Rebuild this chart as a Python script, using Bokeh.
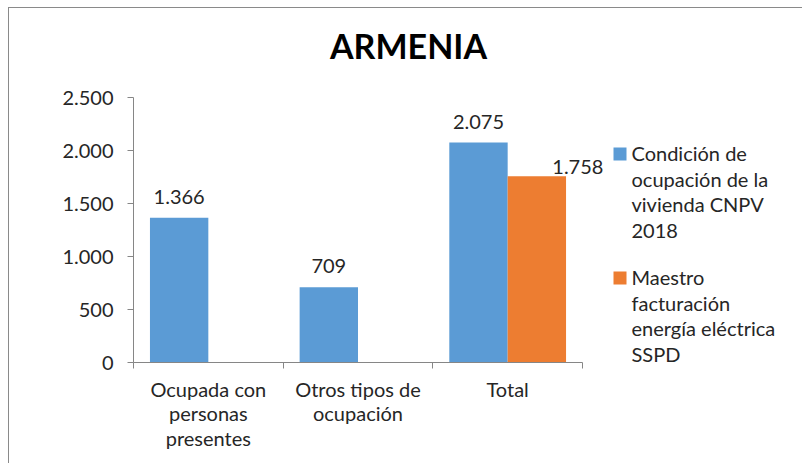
from bokeh.plotting import figure
from bokeh.models import (ColumnDataSource, Range1d, LinearAxis, FixedTicker, LabelSet, Label, BoxAnnotation)
from bokeh.core.properties import value
from bokeh.transform import dodge
from bokeh.embed import file_html
from bokeh.resources import INLINE
import math

# ---- data ----
categories = ["Ocupada con personas presentes", "Otros tipos de ocupación", "Total"]
category_labels = ["Ocupada con\npersonas\npresentes", "Otros tipos de\nocupación", "Total"]
cnpv_2018 = [1366, 709, 2075]
sspd = [float("nan"), float("nan"), 1758]
series_names = ["Condición de\nocupación de la\nvivienda CNPV\n2018",
                "Maestro\nfacturación\nenergía eléctrica\nSSPD"]
y_ticks = [0, 500, 1000, 1500, 2000, 2500]
y_tick_labels = ["0", "500", "1.000", "1.500", "2.000", "2.500"]
y_max = 2500
title_text = "ARMENIA"

# ---- styles / layout ----
BLUE = "#5B9BD5"
ORANGE = "#ED7D31"
COLORS = [BLUE, ORANGE]
AXIS = "#868686"
TXT = "#262626"
FONT = "Lato"
FS = "20px"

W_CANVAS, H_CANVAS = 794, 456
LEFT, BOTTOM = 124, 102           # room for the axes
PX_CAT = 149.67                   # pixels per category
PX_Y = 265 / y_max                # pixels per unit on the value axis
frame_w = W_CANVAS - LEFT
frame_h = H_CANVAS - BOTTOM


def fmt(v):
    return f"{int(v):,}".replace(",", ".")


n = len(categories)
centers = [i + 0.5 for i in range(n)]
bounds = list(range(n + 1))

p = figure(x_range=Range1d(0, frame_w / PX_CAT), y_range=Range1d(0, frame_h / PX_Y),
           width=W_CANVAS, height=H_CANVAS, output_backend="svg", toolbar_location=None,
           x_axis_location=None, y_axis_location="left",
           min_border_left=LEFT, min_border_right=0, min_border_top=0, min_border_bottom=BOTTOM,
           styles={"margin": "7px 0 0 8px",
                   "border-top": "1px solid #8a8a8a", "border-left": "1px solid #8a8a8a"})
p.outline_line_color = None
p.grid.visible = False

src1 = ColumnDataSource(dict(x=centers, val=cnpv_2018))
src2 = ColumnDataSource(dict(x=centers, val=sspd))

W = 0.39
D = 0.195
r1 = p.vbar(x=dodge("x", -D), top="val", width=W, source=src1, fill_color=BLUE, line_color=None)
r2 = p.vbar(x=dodge("x", D), top="val", width=W, source=src2, fill_color=ORANGE, line_color=None)

# data labels
lab1 = ColumnDataSource(dict(x=centers, val=cnpv_2018, txt=[fmt(v) for v in cnpv_2018]))
idx2 = [i for i, v in enumerate(sspd) if not math.isnan(v)]
lab2 = ColumnDataSource(dict(x=[centers[i] for i in idx2], val=[sspd[i] for i in idx2],
                             txt=[fmt(sspd[i]) for i in idx2]))
p.add_layout(LabelSet(x=dodge("x", -D), y="val", text="txt", source=lab1,
                      text_align="center", text_baseline="middle", y_offset=21,
                      text_font=value(FONT), text_font_size=value(FS), text_color=TXT))
p.add_layout(LabelSet(x=dodge("x", D), y="val", text="txt", source=lab2,
                      text_align="center", text_baseline="middle", y_offset=9, x_offset=41,
                      text_font=value(FONT), text_font_size=value(FS), text_color=TXT))

# y axis
yax = p.yaxis[0]
yax.ticker = FixedTicker(ticks=y_ticks)
yax.bounds = (0, y_max)
yax.major_label_overrides = dict(zip(y_ticks, y_tick_labels))
yax.axis_line_color = AXIS
yax.major_tick_line_color = AXIS
yax.major_tick_out = 6
yax.major_tick_in = 0
yax.minor_tick_line_color = None
yax.major_label_standoff = 14
yax.major_label_text_font = FONT
yax.major_label_text_font_size = FS
yax.major_label_text_color = TXT

# x axis: tick-only axis at category boundaries + label axis at category centres
tick_axis = LinearAxis(ticker=FixedTicker(ticks=bounds), bounds=(0, n),
                       major_label_overrides={b: "" for b in bounds},
                       major_label_text_font_size="1px", major_label_standoff=0,
                       major_tick_out=6, major_tick_in=0, minor_tick_line_color=None,
                       axis_line_color=AXIS, major_tick_line_color=AXIS)
p.add_layout(tick_axis, "below")
cat_axis = LinearAxis(ticker=FixedTicker(ticks=centers), axis_line_color=None,
                      major_tick_line_color=None, minor_tick_line_color=None,
                      major_label_overrides=dict(zip(centers, category_labels)),
                      major_label_standoff=2, major_label_text_font=FONT,
                      major_label_text_font_size=FS, major_label_text_color=TXT,
                      major_label_text_line_height=1.04)
p.add_layout(cat_axis, "below")

# title (screen units measured from the frame's lower left corner)
p.add_layout(Label(x=275, y=317, x_units="screen", y_units="screen", text=title_text,
                   text_align="center", text_baseline="alphabetic", text_font=FONT,
                   text_font_style="bold", text_font_size="34px", text_color="#000000"))

# legend, drawn by hand so that the swatch sits on the first text line
swatch_bottom = [202, 78]
text_anchor = [171, 47]
for name, col, sb, ta in zip(series_names, COLORS, swatch_bottom, text_anchor):
    p.add_layout(BoxAnnotation(left=480, right=493, top=sb + 13, bottom=sb,
                               left_units="screen", right_units="screen",
                               top_units="screen", bottom_units="screen",
                               fill_color=col, fill_alpha=1, line_color=None))
    p.add_layout(Label(x=498, y=ta, x_units="screen", y_units="screen", text=name,
                       text_align="left", text_baseline="alphabetic", text_font=FONT,
                       text_font_size=FS, text_color=TXT, text_line_height=1.07))

open("out.html", "w").write(file_html(p, INLINE))
